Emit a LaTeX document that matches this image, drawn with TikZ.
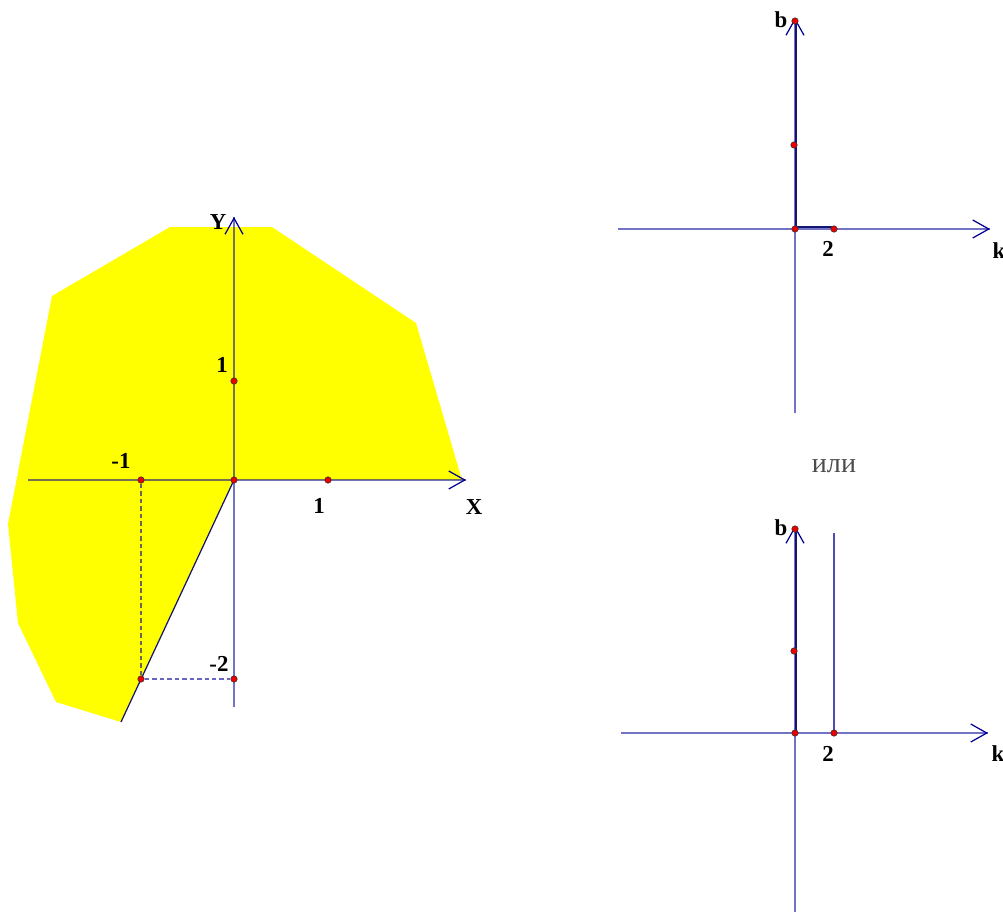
\documentclass[tikz,border=0pt]{standalone}
\usepackage{fontspec}
\setmainfont{Liberation Serif}
\usetikzlibrary{arrows.meta, calc}
\definecolor{axisblue}{RGB}{0,0,150}
\definecolor{segnavy}{RGB}{20,20,115}
\definecolor{ptred}{RGB}{235,0,0}
\definecolor{fillyellow}{RGB}{255,255,0}

\begin{document}
\begin{tikzpicture}[x=0.02cm, y=-0.02cm,
  axis/.style={draw=axisblue, draw opacity=0.55, line width=0.7pt},
  axistip/.style={-{Straight Barb[length=0.32cm, width=0.36cm]}, draw=axisblue, line width=0.7pt},
  seg/.style={draw=segnavy, line width=1.2pt},
  edge/.style={draw=segnavy, line width=0.7pt},
  bound/.style={draw=axisblue, draw opacity=0.7, line width=0.9pt},
  guide/.style={draw=axisblue, draw opacity=0.6, dash pattern=on 0.09cm off 0.06cm, line width=0.6pt},
  pt/.style={circle, fill=ptred, draw=black!80, line width=0.3pt, inner sep=0pt, minimum size=0.13cm},
  lbl/.style={font=\fontsize{13}{15}\selectfont\bfseries, inner sep=0pt},
  region/.style={fill=fillyellow, draw=none},
]
\useasboundingbox (0,0) rectangle (1003,913);

% --- Left: region and XY axes ---
\coordinate (O) at (234,480);
\coordinate (corner) at (121,722);
\fill[region] (170,227) -- (272,227) -- (416,323) -- (462,480) -- (O) -- (corner)
  -- (56,702) -- (18,623) -- (8,524) -- (52,296) -- cycle;
\draw[edge] (O) -- (corner);

\coordinate (xl) at (28,480);
\coordinate (xr) at (466,480);
\coordinate (yb) at (234,707);
\coordinate (yt) at (234,217);
\draw[axis] (xl) -- (xr);
\draw[axis] (yb) -- (yt);
\draw[axistip] ($(xr)+(-1,0)$) -- (xr);
\draw[axistip] ($(yt)+(0,1)$) -- (yt);

\node[pt] (pO)  at (O) {};
\node[pt] (px1) at (328,480) {};
\node[pt] (pxm1) at (141,480) {};
\node[pt] (py1) at (234,381) {};
\node[pt] (pym2) at (234,679) {};
\node[pt] (pA)  at (141,679) {};
\draw[guide] (pxm1) -- (pA);
\draw[guide] (pA) -- (pym2);

\node[lbl] (lY)   at (218,222) {Y};
\node[lbl] (lX)   at (474,507) {X};
\node[lbl] (ly1)  at (222,365) {1};
\node[lbl] (lx1)  at (319,506) {1};
\node[lbl] (lxm1) at (121,461) {-1};
\node[lbl] (lym2) at (219,664) {-2};

% --- Right, top: kb plane ---
\coordinate (kl1) at (618,229);
\coordinate (kr1) at (990,229);
\coordinate (bb1) at (795,413);
\coordinate (bt1) at (795,18);
\draw[axis] (kl1) -- (kr1);
\draw[axis] (bb1) -- (bt1);
\draw[axistip] ($(kr1)+(-1,0)$) -- (kr1);
\draw[axistip] ($(bt1)+(0,1)$) -- (bt1);

\coordinate (s1a) at (796,21);
\coordinate (s1b) at (796,227);
\coordinate (s1c) at (834,227);
\draw[seg] (s1a) -- (s1b) -- (s1c);

\node[pt] (qtop1) at (795,21) {};
\node[pt] (qmid1) at (794,145) {};
\node[pt] (qO1)   at (795,229) {};
\node[pt] (qk1)   at (834,229) {};

\node[lbl] (lb1) at (781,20) {b};
\node[lbl] (l21) at (828,249) {2};
\node[lbl] (lk1) at (999,251) {k};

% --- or ---
\node[font=\fontsize{16}{19}\selectfont, text=black!70, inner sep=0pt] (lor) at (834,466) {или};

% --- Right, bottom: kb plane ---
\coordinate (kl2) at (621,733);
\coordinate (kr2) at (988,733);
\coordinate (bb2) at (795,912);
\coordinate (bt2) at (795,526);
\draw[axis] (kl2) -- (kr2);
\draw[axis] (bb2) -- (bt2);
\draw[axistip] ($(kr2)+(-1,0)$) -- (kr2);
\draw[axistip] ($(bt2)+(0,1)$) -- (bt2);

\coordinate (s2a) at (796,529);
\coordinate (s2b) at (796,733);
\draw[seg] (s2a) -- (s2b);
\coordinate (v2a) at (834,533);
\coordinate (v2b) at (834,733);
\draw[bound] (v2a) -- (v2b);

\node[pt] (qtop2) at (795,529) {};
\node[pt] (qmid2) at (794,651) {};
\node[pt] (qO2)   at (795,733) {};
\node[pt] (qk2)   at (834,733) {};

\node[lbl] (lb2) at (781,528) {b};
\node[lbl] (l22) at (828,754) {2};
\node[lbl] (lk2) at (998,754) {k};

\end{tikzpicture}
\end{document}
